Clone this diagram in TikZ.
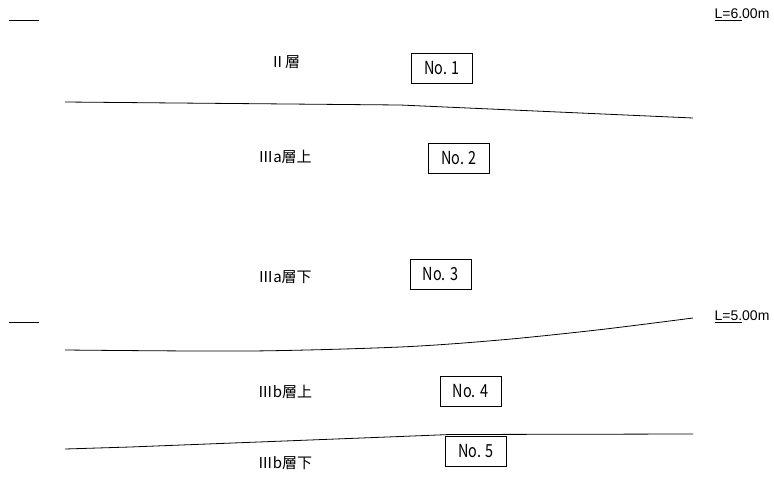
\documentclass[tikz,border=0pt]{standalone}
\usepackage{fontspec}
\setmainfont{Liberation Sans}
\newfontfamily\jpfont{Noto Sans CJK JP}
\newfontfamily\nofont[FakeStretch=0.8]{Noto Sans CJK JP}
\usetikzlibrary{positioning}

\begin{document}
\begin{tikzpicture}[x=1pt, y=-1pt,
    sample/.style={draw, line width=0.9pt, minimum width=61pt, minimum height=30pt, inner sep=0pt, font=\nofont\fontsize{18}{18}\selectfont},
    layer/.style={inner sep=0pt, font=\jpfont\fontsize{15}{15}\selectfont},
    depth/.style={inner sep=0pt, font=\fontsize{14}{14}\selectfont},
    bound/.style={line width=0.8pt}]
    \useasboundingbox (0, 0) rectangle (774, 480);
    % depth marks
    \draw[bound] (9, 20) -- (39, 20);
    \draw[bound] (9, 322) -- (39, 322);
    \node[depth] (d6) at (742, 15) {\underline{L=6.}00m};
    \node[depth] (d5) at (742, 317) {\underline{L=5.}00m};
    % layer boundaries
    \draw[bound] (65, 102) -- (400, 105) -- (693, 118);
    \draw[bound] plot[smooth] coordinates {(65, 350) (250, 351) (400, 347) (500, 340) (597, 330) (693, 318)};
    \draw[bound] (65, 449) -- (130, 447) -- (400, 436.5) -- (450, 434.5) -- (693, 434);
    % layer names
    \node[layer] (l2) at (285, 62) {Ⅱ層};
    \node[layer] (l3au) at (285, 157) {Ⅲa層上};
    \node[layer] (l3ad) at (285, 277) {Ⅲa層下};
    \node[layer] (l3bu) at (285, 392) {Ⅲb層上};
    \node[layer] (l3bd) at (285, 463) {Ⅲb層下};
    % samples
    \node[sample] (no1) at (442, 68.5) {No. 1};
    \node[sample] (no2) at (459, 158.5) {No. 2};
    \node[sample] (no3) at (440.5, 274.5) {No. 3};
    \node[sample] (no4) at (470.5, 391.5) {No. 4};
    \node[sample] (no5) at (476, 451.5) {No. 5};
\end{tikzpicture}
\end{document}
